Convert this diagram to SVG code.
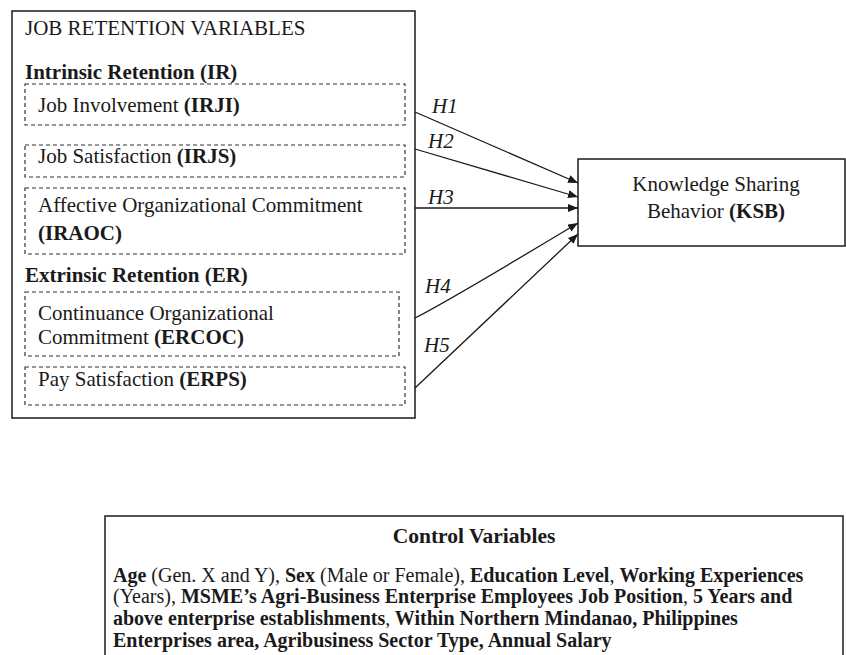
<svg xmlns="http://www.w3.org/2000/svg" width="846" height="655" viewBox="0 0 846 655">
<style>
  .t { font-family: "Liberation Serif", "Times New Roman", serif; font-size: 21px; fill: #1a1a1a; }
  .c { font-family: "Liberation Serif", "Times New Roman", serif; font-size: 20px; fill: #1a1a1a; }
  .b { font-weight: bold; }
  .i { font-style: italic; }
  .box { fill: #fff; stroke: #1a1a1a; stroke-width: 1.5; }
  .dash { fill: none; stroke: #333; stroke-width: 1.2; stroke-dasharray: 4 3; }
  .conn { fill: none; stroke: #1a1a1a; stroke-width: 1.3; marker-end: url(#arr); }
</style>
<defs>
  <marker id="arr" markerUnits="userSpaceOnUse" markerWidth="11" markerHeight="9" refX="10" refY="4" orient="auto">
    <path d="M0,0 L10,4 L0,8 z" fill="#1a1a1a"/>
  </marker>
</defs>
<rect width="846" height="655" fill="#fff"/>

<g id="job-retention">
  <rect class="box" x="12" y="11" width="403" height="407"/>
  <text class="t" x="25" y="35">JOB RETENTION VARIABLES</text>
  <text class="t b" x="25" y="79">Intrinsic Retention (IR)</text>
  <text class="t b" x="25" y="282">Extrinsic Retention (ER)</text>
</g>

<g id="irji">
  <rect class="dash" x="25" y="84" width="380" height="41"/>
  <text class="t" x="38" y="112">Job Involvement <tspan class="b">(IRJI)</tspan></text>
</g>
<g id="irjs">
  <rect class="dash" x="25" y="145" width="380" height="32"/>
  <text class="t" x="38" y="163">Job Satisfaction <tspan class="b">(IRJS)</tspan></text>
</g>
<g id="iraoc">
  <rect class="dash" x="25" y="188" width="380" height="66"/>
  <text class="t" x="38" y="212">Affective Organizational Commitment</text>
  <text class="t b" x="38" y="240">(IRAOC)</text>
</g>
<g id="ercoc">
  <rect class="dash" x="25" y="292" width="374" height="64"/>
  <text class="t" x="38" y="320">Continuance Organizational</text>
  <text class="t" x="38" y="344">Commitment <tspan class="b">(ERCOC)</tspan></text>
</g>
<g id="erps">
  <rect class="dash" x="25" y="367" width="380" height="38"/>
  <text class="t" x="38" y="386">Pay Satisfaction <tspan class="b">(ERPS)</tspan></text>
</g>

<g id="ksb">
  <rect class="box" x="578" y="159" width="267" height="87"/>
  <text class="t" x="716" y="191" text-anchor="middle">Knowledge Sharing</text>
  <text class="t" x="716" y="218" text-anchor="middle">Behavior <tspan class="b">(KSB)</tspan></text>
</g>

<g id="connectors">
  <line class="conn" x1="415" y1="112" x2="578" y2="183"/>
  <line class="conn" x1="415" y1="149" x2="578" y2="197"/>
  <line class="conn" x1="415" y1="208" x2="578" y2="208"/>
  <path class="conn" d="M415,318 Q450,300 578,223"/>
  <line class="conn" x1="415" y1="388" x2="578" y2="234"/>
  <text class="t i" x="432" y="113">H1</text>
  <text class="t i" x="428" y="148">H2</text>
  <text class="t i" x="428" y="204">H3</text>
  <text class="t i" x="425" y="293">H4</text>
  <text class="t i" x="424" y="352">H5</text>
</g>

<g id="control-variables">
  <rect class="box" x="105" y="516" width="738" height="170"/>
  <text class="t b" x="474" y="543" text-anchor="middle" style="font-size:21.5px">Control Variables</text>
  <text class="c" x="113" y="582"><tspan class="b">Age</tspan> (Gen. X and Y), <tspan class="b">Sex</tspan> (Male or Female), <tspan class="b">Education Level</tspan>, <tspan class="b">Working Experiences</tspan></text>
  <text class="c" x="113" y="603">(Years), <tspan class="b">MSME’s Agri-Business Enterprise Employees Job Position</tspan>, <tspan class="b">5 Years and</tspan></text>
  <text class="c b" x="113" y="625">above enterprise establishments<tspan style="font-weight:normal">,</tspan> Within Northern Mindanao, Philippines</text>
  <text class="c b" x="113" y="647">Enterprises area, Agribusiness Sector Type, Annual Salary</text>
</g>
</svg>
